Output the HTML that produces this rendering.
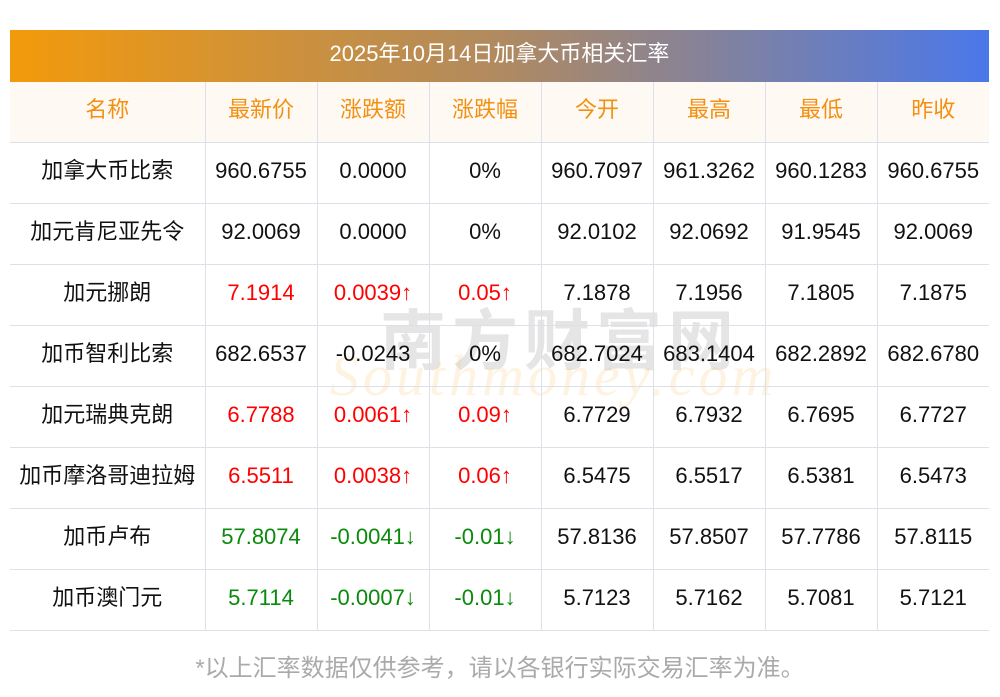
<!DOCTYPE html><html><head><meta charset="utf-8"><style>
body{margin:0;width:1000px;height:697px;background:#fff;position:relative;overflow:hidden;font-family:"Liberation Sans","Noto Sans CJK SC",sans-serif}
.title{position:absolute;left:10px;top:30px;width:979px;height:52px;background:linear-gradient(90deg,#f39a0b,#b08a60 50%,#4a78ea);color:#fff;font-size:22px;line-height:48px;text-align:center}
table{position:absolute;left:10px;top:82px;border-collapse:collapse;width:979px;table-layout:fixed}
td{border:1px solid #dde0e8;text-align:center;font-size:22px;color:#111;height:60px;padding:0;white-space:nowrap;vertical-align:top}
td div{height:56px;line-height:56px;overflow:visible}
tr:first-child td{background:#fef9f3;color:#f39012;border-top:none}
tr td:first-child{border-left:none}tr td:last-child{border-right:none}
.r{color:#f00}.g{color:#0a8a0a}
.wm{position:absolute;color:rgba(150,150,150,0.25);font-size:66px;left:380px;top:288px;letter-spacing:6px;font-family:"Noto Sans CJK SC",sans-serif;font-weight:bold}
.wm2{position:absolute;color:rgba(250,200,120,0.22);font-size:58px;left:330px;top:342px;font-style:italic;font-family:"Liberation Serif",serif;letter-spacing:4px}
.foot{position:absolute;top:648px;left:0;width:1000px;text-align:center;color:#aaa;font-size:24px}
</style></head><body>
<div class="wm">南方财富网</div>
<div class="wm2">Southmoney.com</div>
<div class="title">2025年10月14日加拿大币相关汇率</div>
<table>
<colgroup><col style="width:195px"><col span="7" style="width:112px"></colgroup>
<tr><td><div>名称</div></td><td><div>最新价</div></td><td><div>涨跌额</div></td><td><div>涨跌幅</div></td><td><div>今开</div></td><td><div>最高</div></td><td><div>最低</div></td><td><div>昨收</div></td></tr>
<tr><td><div>加拿大币比索</div></td><td><div>960.6755</div></td><td><div>0.0000</div></td><td><div>0%</div></td><td><div>960.7097</div></td><td><div>961.3262</div></td><td><div>960.1283</div></td><td><div>960.6755</div></td></tr>
<tr><td><div>加元肯尼亚先令</div></td><td><div>92.0069</div></td><td><div>0.0000</div></td><td><div>0%</div></td><td><div>92.0102</div></td><td><div>92.0692</div></td><td><div>91.9545</div></td><td><div>92.0069</div></td></tr>
<tr><td><div>加元挪朗</div></td><td class="r"><div>7.1914</div></td><td class="r"><div>0.0039↑</div></td><td class="r"><div>0.05↑</div></td><td><div>7.1878</div></td><td><div>7.1956</div></td><td><div>7.1805</div></td><td><div>7.1875</div></td></tr>
<tr><td><div>加币智利比索</div></td><td><div>682.6537</div></td><td><div>-0.0243</div></td><td><div>0%</div></td><td><div>682.7024</div></td><td><div>683.1404</div></td><td><div>682.2892</div></td><td><div>682.6780</div></td></tr>
<tr><td><div>加元瑞典克朗</div></td><td class="r"><div>6.7788</div></td><td class="r"><div>0.0061↑</div></td><td class="r"><div>0.09↑</div></td><td><div>6.7729</div></td><td><div>6.7932</div></td><td><div>6.7695</div></td><td><div>6.7727</div></td></tr>
<tr><td><div>加币摩洛哥迪拉姆</div></td><td class="r"><div>6.5511</div></td><td class="r"><div>0.0038↑</div></td><td class="r"><div>0.06↑</div></td><td><div>6.5475</div></td><td><div>6.5517</div></td><td><div>6.5381</div></td><td><div>6.5473</div></td></tr>
<tr><td><div>加币卢布</div></td><td class="g"><div>57.8074</div></td><td class="g"><div>-0.0041↓</div></td><td class="g"><div>-0.01↓</div></td><td><div>57.8136</div></td><td><div>57.8507</div></td><td><div>57.7786</div></td><td><div>57.8115</div></td></tr>
<tr><td><div>加币澳门元</div></td><td class="g"><div>5.7114</div></td><td class="g"><div>-0.0007↓</div></td><td class="g"><div>-0.01↓</div></td><td><div>5.7123</div></td><td><div>5.7162</div></td><td><div>5.7081</div></td><td><div>5.7121</div></td></tr>
</table>
<div class="foot">*以上汇率数据仅供参考，请以各银行实际交易汇率为准。</div>
</body></html>
